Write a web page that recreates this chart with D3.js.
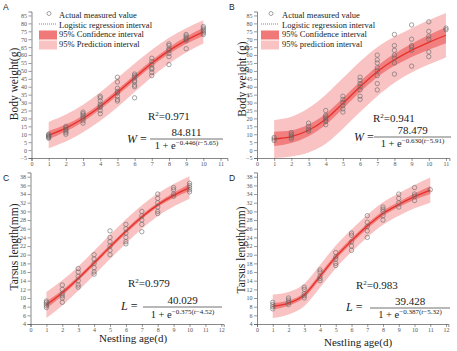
<!DOCTYPE html>
<html>
<head>
<meta charset="utf-8">
<script src="https://cdnjs.cloudflare.com/ajax/libs/d3/7.8.5/d3.min.js"></script>
<style>
  body { margin:0; background:#fff; }
  svg { display:block; }
</style>
</head>
<body>
<script>

// tick labels
var xTicks11 = [0,1,2,3,4,5,6,7,8,9,10,11];
var xTicks12 = [0,1,2,3,4,5,6,7,8,9,10,11,12];
var yTicksW = [-5,0,5,10,15,20,25,30,35,40,45,50,55,60,65,70,75,80,85];
var yTicksL = [4,6,8,10,12,14,16,18,20,22,24,26,28,30,32,34,36,38];

// A - body weight, measured values for days 1..10
var aPts = [
  [7.5, 8, 8.5, 9, 9.5, 10],
  [10, 11, 12, 13, 14, 15],
  [17, 18.5, 20, 21, 22, 23, 24],
  [23, 25, 27, 28, 29, 31, 33, 34],
  [31, 32, 34, 36, 37, 39, 43, 46],
  [33, 40, 41, 43, 44, 46, 47, 48],
  [47, 49, 51, 52, 54, 56, 58],
  [54, 59, 61, 63, 64, 66, 67],
  [64, 69, 70, 71, 72, 73],
  [73, 74, 75, 76, 77, 78]
];
var aFit = [9.5, 13.9, 19.9, 27.5, 36.3, 45.7, 54.8, 62.8, 69.3, 74.6];
var aCi  = [2.6, 2.2, 2.0, 1.9, 1.9, 1.9, 1.9, 2.0, 2.2, 2.6];
var aPi  = [8.3, 8.5, 8.7, 9, 9.2, 9, 8.6, 8.2, 7.7, 7.3];

// B - body weight, days 1..11
var bPts = [
  [6, 7, 8],
  [7, 8, 9, 10, 11],
  [12, 13, 15, 17],
  [16, 18, 19, 20, 21, 22, 25],
  [24, 26, 28, 30, 32, 34],
  [32, 34, 38, 40, 42, 44, 46],
  [38, 42, 47, 50, 52, 55, 57, 60],
  [48, 55, 58, 60, 63, 66, 73],
  [53, 63, 65, 66, 70, 79],
  [59, 62, 70, 72, 75, 81],
  [76, 77]
];
var bFit = [7, 8.5, 12.5, 19.5, 29.5, 40, 49.5, 57, 63, 68, 72.5];
var bCi  = [4.5, 4, 3.7, 3.5, 3.3, 3.3, 3.5, 3.8, 4.2, 4.6, 5];
var bPi  = [12, 12.5, 14, 15.5, 16, 16, 15.5, 14.5, 14, 14, 14];

// C - tarsus length, days 1..10
var cPts = [
  [7.8, 8.2, 8.6, 9, 9.3],
  [9, 10, 10.5, 11, 12, 13],
  [12.5, 13, 14, 15, 16, 16.8],
  [15.5, 16, 17, 18, 19, 20],
  [20, 21, 22, 23, 24, 25.5],
  [22.5, 23, 24, 25, 26, 27],
  [25.3, 27, 28, 29, 30],
  [29.5, 30, 31, 32, 33, 34],
  [33.5, 34, 35, 35.5],
  [34.5, 35, 35.5, 36, 36.5]
];
var cFit = [8.4, 11.2, 14.5, 18.1, 21.8, 25.4, 28.7, 31.5, 33.7, 35.5];
var cCi  = [0.8, 0.6, 0.5, 0.5, 0.5, 0.5, 0.5, 0.5, 0.6, 0.8];
var cPi  = [3, 2.9, 2.8, 2.8, 2.8, 2.8, 2.7, 2.6, 2.6, 2.6];

// D - tarsus length, days 1..11
var dPts = [
  [7.5, 8, 8.5, 9],
  [8.5, 9, 9.5, 10],
  [10, 10.5, 11, 12, 12.5],
  [14, 14.5, 15, 16, 16.5],
  [17.5, 18, 19, 19.5, 20.5],
  [21, 22, 23, 24.5, 25],
  [24, 25.5, 26.5, 27.5, 29],
  [28, 29, 30, 30.5, 31],
  [31, 32, 33, 34],
  [32.5, 33.5, 34, 35.5],
  [35]
];
var dFit = [8.1, 8.8, 10.7, 15.0, 19.5, 23.2, 26.6, 29.5, 31.6, 33.4, 34.9];
var dCi  = [0.7, 0.6, 0.6, 0.6, 0.6, 0.6, 0.6, 0.6, 0.6, 0.7, 0.9];
var dPi  = [2.7, 2.6, 2.6, 2.6, 2.6, 2.6, 2.6, 2.6, 2.6, 2.7, 2.9];

var legendLabels = ["Actual measured value", "Logistic regression interval", "95% Confidence interval"];
var r2Labels = ["0.971", "0.941", "0.979", "0.983"];
var numerators = ["84.811", "78.479", "40.029", "39.428"];
var exponents = [["\u22120.446(", "\u22125.65)"], ["\u22120.630(", "\u22125.91)"],
                 ["\u22120.375(", "\u22124.52)"], ["\u22120.387(", "\u22125.32)"]];

var serif = "'Liberation Serif', 'Times New Roman', serif";
var PI_COL = "#f9c3c3", CI_COL = "#f07878", LINE_COL = "#e8302a";

var svg = d3.select("body").append("svg")
  .attr("width", 457).attr("height", 351)
  .style("background", "#fff");

var panels = [
  {letter:"A", lx:3, ly:10, pts:aPts, fit:aFit, ci:aCi, pi:aPi, xTicks:xTicks11, yTicks:yTicksW,
   xDom:[0,11.4], xR:[31.5,227.4], yDom:[-5,87.5], yR:[158,11.5],
   yTitle:"Body weight(g)", ytx:18, yty:84, xTitle:null,
   legend:{sx:39, tx:59, last:"95% Prediction interval"},
   sym:"W", f:{r2x:148, r2y:120, symx:127, symy:142.5, lx0:150, lx1:223, ly:139, numy:136, deny:148.5}},
  {letter:"B", lx:229, ly:10, pts:bPts, fit:bFit, ci:bCi, pi:bPi, xTicks:xTicks11, yTicks:yTicksW,
   xDom:[0,11.2], xR:[257,449.4], yDom:[-5,87.5], yR:[158,11.5],
   yTitle:"Body weight (g)", ytx:246, yty:79, xTitle:null,
   legend:{sx:261, tx:282, last:"95% prediction interval"},
   sym:"W", f:{r2x:373, r2y:122, symx:354, symy:141, lx0:374, lx1:451, ly:137, numy:134, deny:147}},
  {letter:"C", lx:3, ly:181, pts:cPts, fit:cFit, ci:cCi, pi:cPi, xTicks:xTicks12, yTicks:yTicksL,
   xDom:[0,12.15], xR:[30.5,223.7], yDom:[4,39], yR:[324,172.4],
   yTitle:"Tarsus length(mm)", ytx:18, yty:247, xTitle:"Nestling age(d)", xtx:133, xty:342,
   legend:null,
   sym:"L", f:{r2x:128, r2y:287, symx:121, symy:310, lx0:143, lx1:222, ly:307, numy:304, deny:317.5}},
  {letter:"D", lx:229, ly:181, pts:dPts, fit:dFit, ci:dCi, pi:dPi, xTicks:xTicks12, yTicks:yTicksL,
   xDom:[0,12.15], xR:[257,448.4], yDom:[4,39], yR:[324,172.4],
   yTitle:"Tarsus length(mm)", ytx:245, yty:250, xTitle:"Nestling age(d)", xtx:358, xty:346,
   legend:null,
   sym:"L", f:{r2x:356, r2y:289, symx:346, symy:311, lx0:370, lx1:450, ly:308, numy:304.5, deny:318}}
];

panels.forEach(function(p, i){
  var x = d3.scaleLinear().domain(p.xDom).range(p.xR);
  var y = d3.scaleLinear().domain(p.yDom).range(p.yR);
  var g = svg.append("g");

  var rows = p.fit.map(function(v, k){ return {t:k+1, v:v, ci:p.ci[k], pi:p.pi[k]}; });

  // prediction band
  g.append("path").datum(rows)
    .attr("fill", PI_COL)
    .attr("d", d3.area().curve(d3.curveMonotoneX)
      .x(function(d){ return x(d.t); })
      .y0(function(d){ return y(d.v - d.pi); })
      .y1(function(d){ return y(d.v + d.pi); }));

  // confidence band
  g.append("path").datum(rows)
    .attr("fill", CI_COL).attr("opacity", 0.9)
    .attr("d", d3.area().curve(d3.curveMonotoneX)
      .x(function(d){ return x(d.t); })
      .y0(function(d){ return y(d.v - d.ci); })
      .y1(function(d){ return y(d.v + d.ci); }));

  // fitted curve
  g.append("path").datum(rows)
    .attr("fill", "none").attr("stroke", LINE_COL).attr("stroke-width", 1.3)
    .attr("d", d3.line().curve(d3.curveMonotoneX)
      .x(function(d){ return x(d.t); })
      .y(function(d){ return y(d.v); }));

  // measured points
  var flat = [];
  p.pts.forEach(function(arr, k){ arr.forEach(function(v){ flat.push({t:k+1, v:v}); }); });
  g.selectAll(".pt").data(flat).enter().append("circle")
    .attr("class", "pt")
    .attr("cx", function(d){ return x(d.t); })
    .attr("cy", function(d){ return y(d.v); })
    .attr("r", 2.2)
    .attr("fill", "none").attr("stroke", "#666").attr("stroke-width", 0.6);

  // axes
  var xa = g.append("g").attr("transform", "translate(0," + p.yR[0] + ")")
    .call(d3.axisBottom(x).tickValues(p.xTicks).tickSize(3).tickPadding(1));
  var ya = g.append("g").attr("transform", "translate(" + p.xR[0] + ",0)")
    .call(d3.axisLeft(y).tickValues(p.yTicks).tickSize(3).tickPadding(1.5));
  [xa, ya].forEach(function(a){
    a.select(".domain").attr("stroke", "#555").attr("stroke-width", 0.7);
    a.selectAll(".tick line").attr("stroke", "#555").attr("stroke-width", 0.6);
    a.selectAll(".tick text").attr("fill", "#555")
      .style("font-family", serif).style("font-size", "6px");
  });

  // axis titles
  g.append("text")
    .attr("transform", "translate(" + p.ytx + "," + p.yty + ") rotate(-90)")
    .attr("text-anchor", "middle")
    .style("font-family", serif).style("font-size", "11.5px").attr("fill", "#222")
    .text(p.yTitle);
  if (p.xTitle) {
    g.append("text").attr("x", p.xtx).attr("y", p.xty)
      .attr("text-anchor", "middle")
      .style("font-family", serif).style("font-size", "11px").attr("fill", "#222")
      .text(p.xTitle);
  }

  // panel letter
  g.append("text").attr("x", p.lx).attr("y", p.ly)
    .style("font-family", "'Liberation Sans', Arial, sans-serif").style("font-size", "8.5px")
    .attr("fill", "#222").text(p.letter);

  // legend
  if (p.legend) {
    var L = p.legend, sw = 18;
    var lg = g.append("g");
    lg.append("circle").attr("cx", L.sx + sw/2 + 1).attr("cy", 13.5).attr("r", 2)
      .attr("fill", "none").attr("stroke", "#666").attr("stroke-width", 0.6);
    lg.append("line").attr("x1", L.sx).attr("x2", L.sx + sw).attr("y1", 24).attr("y2", 24)
      .attr("stroke", LINE_COL).attr("stroke-width", 0.8).attr("stroke-dasharray", "1,1");
    lg.append("rect").attr("x", L.sx).attr("y", 30.5).attr("width", sw).attr("height", 9)
      .attr("fill", CI_COL);
    lg.append("rect").attr("x", L.sx).attr("y", 40.5).attr("width", sw).attr("height", 9)
      .attr("fill", PI_COL);
    var labs = legendLabels.concat([L.last]);
    labs.forEach(function(s, k){
      lg.append("text").attr("x", L.tx).attr("y", 18 + k * 9.7)
        .style("font-family", serif).style("font-size", "8.5px").attr("fill", "#222")
        .text(s);
    });
  }

  // R2 and equation
  var f = p.f;
  var r2 = g.append("text").attr("x", f.r2x).attr("y", f.r2y)
    .style("font-family", serif).style("font-size", "11px").attr("fill", "#222");
  r2.append("tspan").text("R");
  r2.append("tspan").attr("dy", -4).style("font-size", "7px").text("2");
  r2.append("tspan").attr("dy", 4).text("=" + r2Labels[i]);

  var eq = g.append("text").attr("x", f.symx).attr("y", f.symy)
    .style("font-family", serif).style("font-size", "12px").attr("fill", "#222");
  eq.append("tspan").style("font-style", "italic").text(p.sym);
  eq.append("tspan").text(" =");

  var cx = (f.lx0 + f.lx1) / 2;
  g.append("line").attr("x1", f.lx0).attr("x2", f.lx1).attr("y1", f.ly).attr("y2", f.ly)
    .attr("stroke", "#333").attr("stroke-width", 0.7);
  g.append("text").attr("x", cx).attr("y", f.numy).attr("text-anchor", "middle")
    .style("font-family", serif).style("font-size", "11px").attr("fill", "#222")
    .text(numerators[i]);
  var den = g.append("text").attr("x", cx).attr("y", f.deny).attr("text-anchor", "middle")
    .style("font-family", serif).style("font-size", "10.5px").attr("fill", "#222");
  den.append("tspan").text("1 + e");
  den.append("tspan").attr("dy", -4).style("font-size", "7px").text(exponents[i][0]);
  den.append("tspan").style("font-size", "7px").style("font-style", "italic").text("t");
  den.append("tspan").style("font-size", "7px").text(exponents[i][1]);
});

</script>
</body>
</html>
